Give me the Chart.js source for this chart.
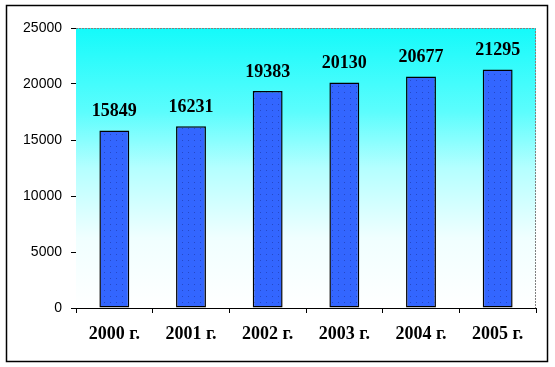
<!DOCTYPE html>
<html>
<head>
<meta charset="utf-8">
<script src="https://cdn.jsdelivr.net/npm/chart.js@4.4.0/dist/chart.umd.min.js"></script>
<style>
  body { margin: 0; background: #ffffff; }
  canvas { display: block; }
</style>
</head>
<body>
<canvas id="my-chart" width="555" height="367"></canvas>
<script>
'use strict';

// DATA
let yearLabels = ['2000 г.', '2001 г.', '2002 г.', '2003 г.', '2004 г.', '2005 г.'];
let yearValues = [15849, 16231, 19383, 20130, 20677, 21295];
let yTickValues = [0, 5000, 10000, 15000, 20000, 25000];

// CANVAS ELEMENT FOR CHART
let ctx = document.getElementById('my-chart');

// DOTTED BAR FILL
function makeBarPattern() {
  let tile = document.createElement('canvas');
  tile.width = 6;
  tile.height = 6;
  let t = tile.getContext('2d');
  t.fillStyle = '#3366ff';
  t.fillRect(0, 0, 6, 6);
  t.fillStyle = '#2448c8';
  t.fillRect(2, 2, 1, 1);
  return t.createPattern(tile, 'repeat');
}

// PLUGIN: GRADIENT BACKGROUND + DASHED TOP/RIGHT BORDER + OUTER FRAME
let plotDecor = {
  id: 'plotDecor',
  beforeDatasetsDraw(chart) {
    let c = chart.ctx;
    let a = chart.chartArea;
    let g = c.createLinearGradient(0, a.top, 0, a.bottom);
    g.addColorStop(0, '#14fafa');
    g.addColorStop(0.3, '#5cfdfd');
    g.addColorStop(0.5, '#b4ffff');
    g.addColorStop(0.75, '#f0ffff');
    g.addColorStop(1, '#ffffff');
    c.save();
    c.fillStyle = g;
    c.fillRect(a.left, a.top, a.right - a.left, a.bottom - a.top);
    c.strokeStyle = '#808080';
    c.lineWidth = 1;
    c.setLineDash([2, 1]);
    c.beginPath();
    c.moveTo(a.left, a.top + 0.5);
    c.lineTo(a.right - 0.5, a.top + 0.5);
    c.lineTo(a.right - 0.5, a.bottom);
    c.stroke();
    c.restore();
  },
  afterDraw(chart) {
    let c = chart.ctx;
    c.save();
    c.strokeStyle = '#000000';
    c.lineWidth = 1.5;
    c.strokeRect(6.5, 5.5, 541, 356);
    c.restore();
  }
};

// PLUGIN: VALUE LABELS ABOVE BARS
let valueLabels = {
  id: 'valueLabels',
  afterDatasetsDraw(chart) {
    let c = chart.ctx;
    let meta = chart.getDatasetMeta(0);
    c.save();
    c.font = 'bold 18px "Liberation Serif", "Times New Roman", serif';
    c.fillStyle = '#000000';
    c.textAlign = 'center';
    c.textBaseline = 'middle';
    for (let i = 0; i < meta.data.length; i++) {
      let bar = meta.data[i];
      c.fillText(String(yearValues[i]), bar.x, bar.y - 19);
    }
    c.restore();
  }
};

let chartObj = {
  type: 'bar',
  data: {
    labels: yearLabels,
    datasets: [{
      data: yearValues,
      backgroundColor: makeBarPattern(),
      borderColor: '#000000',
      borderWidth: 1.5,
      borderSkipped: false,
      categoryPercentage: 1,
      barPercentage: 0.39
    }]
  },
  options: {
    responsive: false,
    animation: false,
    layout: { padding: { top: 28, right: 19, left: 0, bottom: 0 } },
    plugins: {
      legend: { display: false },
      tooltip: { enabled: false }
    },
    scales: {
      x: {
        afterFit(scale) { scale.height = 59; },
        grid: {
          drawOnChartArea: false,
          drawTicks: true,
          tickLength: 5,
          color: '#000000',
          offset: true
        },
        border: { display: true, color: '#000000', width: 1 },
        ticks: {
          color: '#000000',
          padding: 11,
          font: { family: '"Liberation Serif", "Times New Roman", serif', size: 18, weight: 'bold' }
        }
      },
      y: {
        min: 0,
        max: 25000,
        afterFit(scale) { scale.width = 76; },
        afterBuildTicks(scale) {
          scale.ticks = yTickValues.map(v => ({ value: v }));
        },
        grid: {
          drawOnChartArea: false,
          drawTicks: true,
          tickLength: 5,
          color: '#000000'
        },
        border: { display: true, color: '#000000', width: 1 },
        ticks: {
          color: '#000000',
          padding: 9,
          callback: v => String(v),
          font: { family: 'Arial, "Liberation Sans", sans-serif', size: 14 }
        }
      }
    }
  },
  plugins: [plotDecor, valueLabels]
};

new Chart(ctx, chartObj);
</script>
</body>
</html>
